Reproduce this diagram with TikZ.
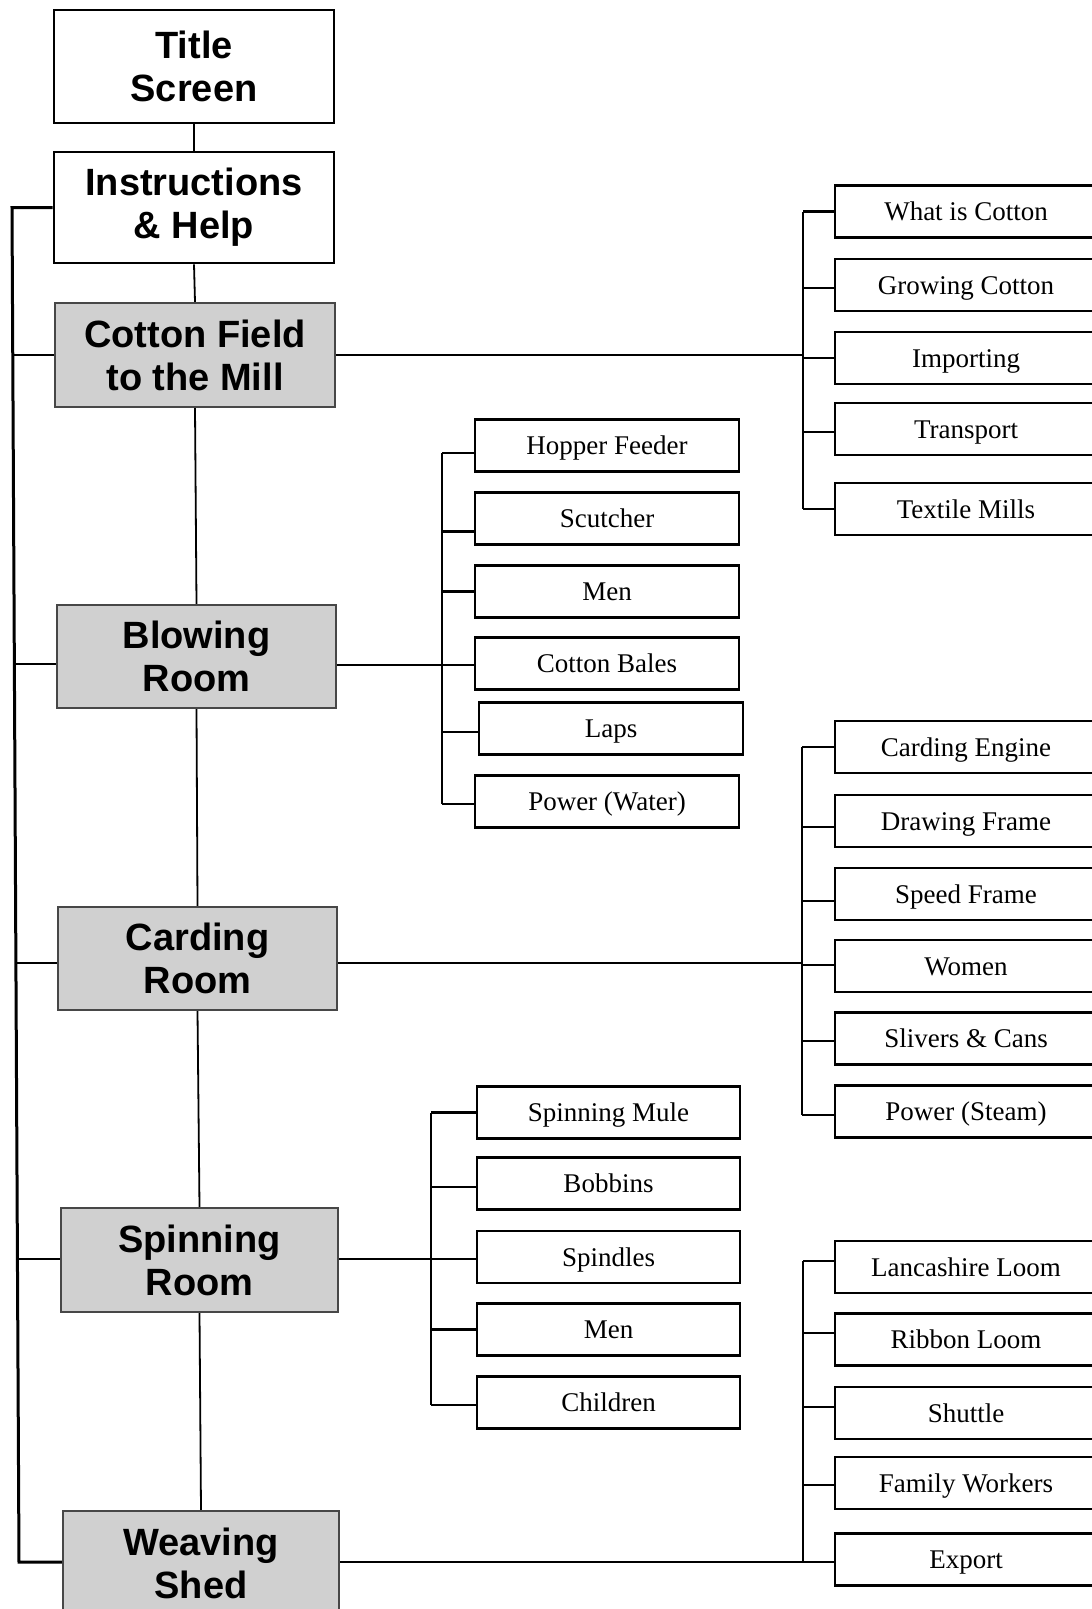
\documentclass[tikz,border=0pt]{standalone}
\usepackage{fontspec}
\setmainfont{Liberation Serif}
\newfontfamily\hsans{Liberation Sans}
\definecolor{boxgray}{RGB}{208,208,208}
\newcommand\mybranch[3]{\draw[arm] ([yshift=#2]#1.west) -- ([yshift=#2]#1.west -| #3);}
\begin{document}
\begin{tikzpicture}[x=1pt,y=-1pt,
  mainbox/.style={draw=black,line width=2.7pt,fill=white,minimum width=280pt,minimum height=111pt,inner sep=0pt,align=center,font=\hsans\bfseries\fontsize{38}{43}\selectfont},
  roombox/.style={mainbox,draw=black!72,line width=2.2pt,fill=boxgray},
  sub/.style={draw=black,line width=2.7pt,fill=white,minimum width=264pt,minimum height=52pt,inner sep=0pt,font=\fontsize{27}{30}\selectfont,text height=24pt,text depth=6pt},
  rsub/.style={sub,minimum width=262pt},
  link/.style={line width=1.8pt},
  arm/.style={line width=2.6pt},
  spine/.style={line width=3pt}]
\useasboundingbox (0,0) rectangle (1092,1609);
\clip (0,0) rectangle (1092,1609);
\fill[white] (0,0) rectangle (1092,1609);

% trunk coordinates
\coordinate (lt1) at (12,0);
\coordinate (lt2) at (19,0);
\coordinate (lc) at (12.8,0);
\coordinate (lb) at (14.4,0);
\coordinate (ld) at (15.9,0);
\coordinate (ls) at (17.5,0);
\coordinate (tA) at (803,0);
\coordinate (tB) at (442,0);
\coordinate (tC) at (802,0);
\coordinate (tD) at (431,0);
\coordinate (tE) at (803,0);

% main column
\node[mainbox,minimum height=113pt] (title) at (194,66.5) {Title\\Screen};
\node[mainbox] (instr) at (194,207.5) {Instructions\\\& Help};
\node[roombox,minimum height=104pt] (cotton) at (195,355) {Cotton Field\\to the Mill};
\node[roombox,minimum width=279pt,minimum height=103pt] (blow) at (196.5,656.5) {Blowing\\Room};
\node[roombox,minimum width=279pt,minimum height=103pt] (card) at (197.5,958.5) {Carding\\Room};
\node[roombox,minimum width=277pt,minimum height=104pt] (spin) at (199.5,1260) {Spinning\\Room};
\node[roombox,minimum width=276pt,minimum height=104pt] (weave) at (201,1563) {Weaving\\Shed};

\draw[link] (title.south) -- (instr.north);
\draw[link] (instr.south) -- (cotton.north);
\draw[link] (cotton.south) -- (blow.north);
\draw[link] (blow.south) -- (card.north);
\draw[link] (card.south) -- (spin.north);
\draw[link] (spin.south) -- (weave.north);

% left spine
\draw[spine] (instr.west) -- (instr.west -| lt1) -- ([yshift=1pt]weave.west -| lt2) -- ([yshift=1pt]weave.west);
\draw[arm] (cotton.west) -- (cotton.west -| lc);
\draw[arm] ([yshift=-7.5pt]blow.west) -- ([yshift=-7.5pt]blow.west -| lb);
\draw[arm] ([yshift=-4.5pt]card.west) -- ([yshift=-4.5pt]card.west -| ld);
\draw[arm] ([yshift=1pt]spin.west) -- ([yshift=1pt]spin.west -| ls);

% Cotton Field children
\node[rsub] (c1) at (966,211.5) {What is Cotton};
\node[rsub] (c2) at (966,285) {Growing Cotton};
\node[rsub] (c3) at (966,358) {Importing};
\node[rsub] (c4) at (966,429) {Transport};
\node[rsub] (c5) at (966,509) {Textile Mills};
\draw[arm] (cotton.east) -- (cotton.east -| tA);
\draw[arm] (c1.west -| tA) -- (c5.west -| tA);
\mybranch{c1}{0pt}{tA}
\mybranch{c2}{-3pt}{tA}
\mybranch{c3}{0pt}{tA}
\mybranch{c4}{-3pt}{tA}
\mybranch{c5}{0pt}{tA}

% Blowing Room children
\node[sub] (b1) at (607,445.5) {Hopper Feeder};
\node[sub] (b2) at (607,518.5) {Scutcher};
\node[sub] (b3) at (607,591.5) {Men};
\node[sub] (b4) at (607,663.5) {Cotton Bales};
\node[sub] (b5) at (611,728.5) {Laps};
\node[sub] (b6) at (607,801.5) {Power (Water)};
\draw[arm] ([yshift=-8.5pt]blow.east) -- ([yshift=-8.5pt]blow.east -| tB);
\draw[arm] ([yshift=-7.5pt]b1.west -| tB) -- ([yshift=-2.5pt]b6.west -| tB);
\mybranch{b1}{-7.5pt}{tB}
\mybranch{b2}{-13pt}{tB}
\mybranch{b3}{0pt}{tB}
\mybranch{b4}{-1.5pt}{tB}
\mybranch{b5}{-3.5pt}{tB}
\mybranch{b6}{-2.5pt}{tB}

% Carding Room children
\node[rsub] (d1) at (966,747) {Carding Engine};
\node[rsub] (d2) at (966,821) {Drawing Frame};
\node[rsub] (d3) at (966,894) {Speed Frame};
\node[rsub] (d4) at (966,966) {Women};
\node[rsub] (d5) at (966,1038.5) {Slivers \& Cans};
\node[rsub] (d6) at (966,1111.5) {Power (Steam)};
\draw[arm] ([yshift=-4.5pt]card.east) -- ([yshift=-4.5pt]card.east -| tC);
\draw[arm] (d1.west -| tC) -- ([yshift=-3.5pt]d6.west -| tC);
\mybranch{d1}{0pt}{tC}
\mybranch{d2}{-6pt}{tC}
\mybranch{d3}{-7pt}{tC}
\mybranch{d4}{1pt}{tC}
\mybranch{d5}{-2.5pt}{tC}
\mybranch{d6}{-3.5pt}{tC}

% Spinning Room children
\node[sub,minimum width=263pt] (s1) at (608.5,1112.5) {Spinning Mule};
\node[sub,minimum width=263pt] (s2) at (608.5,1183.5) {Bobbins};
\node[sub,minimum width=263pt] (s3) at (608.5,1257) {Spindles};
\node[sub,minimum width=263pt] (s4) at (608.5,1329.5) {Men};
\node[sub,minimum width=263pt] (s5) at (608.5,1402.5) {Children};
\draw[arm] ([yshift=1pt]spin.east) -- ([yshift=1pt]spin.east -| tD);
\draw[arm] (s1.west -| tD) -- ([yshift=-2.5pt]s5.west -| tD);
\mybranch{s1}{0pt}{tD}
\mybranch{s2}{-3.5pt}{tD}
\mybranch{s3}{-2pt}{tD}
\mybranch{s4}{0pt}{tD}
\mybranch{s5}{-2.5pt}{tD}

% Weaving Shed children
\node[rsub] (w1) at (966,1267) {Lancashire Loom};
\node[rsub] (w2) at (966,1339.5) {Ribbon Loom};
\node[rsub] (w3) at (966,1413) {Shuttle};
\node[rsub] (w4) at (966,1483) {Family Workers};
\node[rsub] (w5) at (966,1559.5) {Export};
\draw[arm] ([yshift=1pt]weave.east) -- ([yshift=1pt]weave.east -| tE);
\draw[arm] ([yshift=6pt]w1.west -| tE) -- ([yshift=-2.5pt]w5.west -| tE);
\mybranch{w1}{6pt}{tE}
\mybranch{w2}{6.5pt}{tE}
\mybranch{w3}{6pt}{tE}
\mybranch{w4}{-2pt}{tE}
\mybranch{w5}{-2.5pt}{tE}
\end{tikzpicture}
\end{document}
